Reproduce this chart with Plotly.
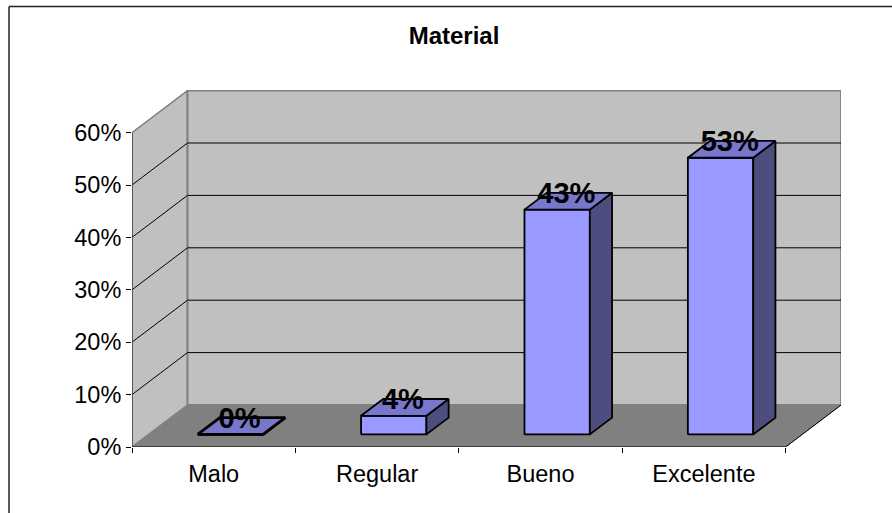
import plotly.graph_objects as go

categories = ["Malo", "Regular", "Bueno", "Excelente"]
values = [0, 3.55, 42.9, 52.8]
labels = ["0%", "4%", "43%", "53%"]
y_ticks = [0, 10, 20, 30, 40, 50, 60]
y_tick_labels = ["0%", "10%", "20%", "30%", "40%", "50%", "60%"]

FONT = "Liberation Sans, Arial, sans-serif"
W, H = 892, 513
L, R, T, B = 132, 841, 90, 447      # plot area in page pixels
PX_X, PX_Y = 163.4, 5.24            # pixels per category / per percent
DX, DY = 55.5 / PX_X, 42 / PX_Y     # full-depth projection offset
BAR_W = 0.4
Z0, Z1 = 0.3, 0.7


def proj(x, y, z):
    return x + z * DX, y + z * DY


def poly(pts, fill, line="black", width=1.8):
    xs, ys = zip(*[proj(*p) for p in pts])
    return go.Scatter(
        x=list(xs), y=list(ys), mode="lines", fill="toself", fillcolor=fill,
        line=dict(color=line, width=width), hoverinfo="skip", showlegend=False,
        cliponaxis=False,
    )


def seg(a, b, color="black", width=1):
    xs, ys = zip(proj(*a), proj(*b))
    return go.Scatter(
        x=list(xs), y=list(ys), mode="lines", line=dict(color=color, width=width),
        hoverinfo="skip", showlegend=False, cliponaxis=False,
    )


n = len(categories)
top = y_ticks[-1]
fig = go.Figure()

# walls and floor
fig.add_trace(poly([(0, 0, 0), (0, top, 0), (0, top, 1), (0, 0, 1), (0, 0, 0)], "#C0C0C0", "#808080", 1.5))
fig.add_trace(poly([(0, 0, 1), (0, top, 1), (n, top, 1), (n, 0, 1), (0, 0, 1)], "#C0C0C0", "#808080", 2))
fig.add_trace(poly([(0, 0, 0), (0, 0, 1), (n, 0, 1), (n, 0, 0), (0, 0, 0)], "#808080", "#808080", 1))

# gridlines
for t in y_ticks[1:-1]:
    fig.add_trace(seg((0, t, 0), (0, t, 1)))
    fig.add_trace(seg((0, t, 1), (n, t, 1)))
fig.add_trace(seg((n, 0, 0), (n, 0, 1)))

# axes
fig.add_trace(seg((0, 0, 0), (0, top, 0), "#333333", 1.2))
fig.add_trace(seg((0, 0, 0), (n, 0, 0), "black", 1.2))

# bars
for i, v in enumerate(values):
    x0 = i + (1 - BAR_W) / 2
    x1 = x0 + BAR_W
    w = 1.8 if v > 0 else 2.8   # a flat bar's doubled outline reads heavier
    fig.add_trace(poly([(x0, 0, Z0), (x1, 0, Z0), (x1, v, Z0), (x0, v, Z0), (x0, 0, Z0)], "#9999FF", width=w))
    fig.add_trace(poly([(x1, 0, Z0), (x1, 0, Z1), (x1, v, Z1), (x1, v, Z0), (x1, 0, Z0)], "#4D4D80", width=w))
    fig.add_trace(poly([(x0, v, Z0), (x1, v, Z0), (x1, v, Z1), (x0, v, Z1), (x0, v, Z0)], "#7777CC", width=w))

# data labels, centred just above the middle of each bar's top face
lx, ly = zip(*[proj(i + 0.5 - 0.012, v + 1.05, 0.5) for i, v in enumerate(values)])
fig.add_trace(go.Scatter(
    x=list(lx), y=list(ly), mode="text", text=[f"<b>{s}</b>" for s in labels], textposition="middle center",
    textfont=dict(family=FONT, size=29, color="black"), cliponaxis=False,
    hoverinfo="skip", showlegend=False,
))

frame = dict(type="line", xref="paper", yref="paper", line=dict(color="#222222", width=1.5))
px = lambda p: (p - L) / (R - L)
py = lambda p: (B - p) / (B - T)
shapes = [
    dict(frame, x0=px(9), x1=px(9), y0=py(6.5), y1=py(H)),
    dict(frame, x0=px(9), x1=px(W), y0=py(6.5), y1=py(6.5)),
]

fig.update_layout(
    width=W, height=H, margin=dict(l=L, r=W - R, t=T, b=H - B),
    paper_bgcolor="white", plot_bgcolor="white", showlegend=False, shapes=shapes,
    font=dict(family=FONT, size=23.5, color="black"),
    title=dict(text="<b>Material</b>", x=454 / W, xanchor="center", y=1 - 36 / H, yanchor="middle",
               font=dict(family=FONT, size=24, color="black")),
    xaxis=dict(
        range=[0, (R - L) / PX_X], showgrid=False, zeroline=False, showline=False,
        tickmode="array", tickvals=[i + 0.5 for i in range(n)], ticktext=categories,
        ticks="", ticklabelstandoff=10,
        minor=dict(tickmode="array", tickvals=list(range(n + 1)), ticks="outside", ticklen=5,
                   tickcolor="black", tickwidth=1),
    ),
    yaxis=dict(
        range=[0, (B - T) / PX_Y], showgrid=False, zeroline=False, showline=False,
        tickmode="array", tickvals=y_ticks, ticktext=y_tick_labels,
        ticks="outside", ticklen=5, tickcolor="black", tickwidth=1, ticklabelstandoff=0,
    ),
)
fig.write_html(
    "out.html",
    config={"displayModeBar": False},
    post_script="document.body.style.margin='0';document.documentElement.style.overflow='hidden';",
)
